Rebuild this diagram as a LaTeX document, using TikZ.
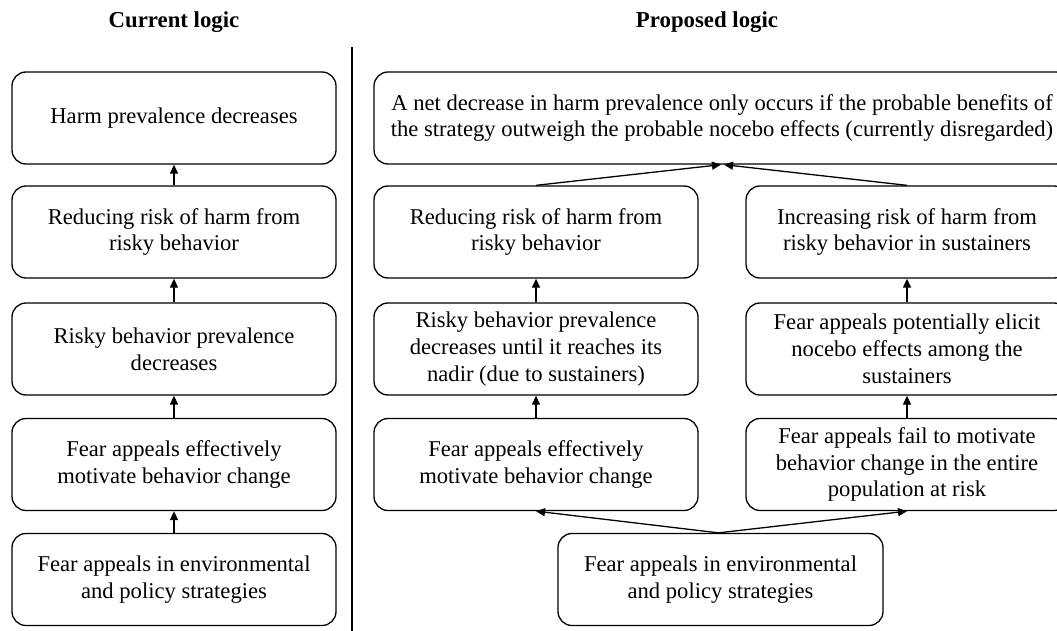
\documentclass[tikz,border=0pt]{standalone}
\usepackage{fontspec}
\setmainfont{Liberation Serif}
\usetikzlibrary{arrows.meta}
\tikzset{
  box/.style={draw=black, line width=1.3pt, rounded corners=14pt, align=center,
    minimum height=92pt, inner sep=2pt, font=\fontsize{22.6}{26.8}\selectfont},
  narrow/.style={box, minimum width=324pt},
  wide/.style={box, minimum width=696pt},
  title/.style={font=\fontsize{22.8}{26.8}\selectfont\bfseries},
  arr/.style={line width=1.3pt, -{Triangle[length=9pt,width=8pt]}},
  divider/.style={line width=2.6pt}
}
\begin{document}
\begin{tikzpicture}[x=1pt,y=-1pt]
\useasboundingbox (0,0) rectangle (1057,631);
% titles
\node[title] (t1) at (174,22) {Current logic};
\node[title] (t2) at (707,22) {Proposed logic};
\coordinate (d1) at (352,47);
\coordinate (d2) at (352,631);
\draw[divider] (d1) -- (d2);
% current logic
\node[narrow] (l1) at (174,118) {Harm prevalence decreases};
\node[narrow] (l2) at (174,232) {Reducing risk of harm from\\risky behavior};
\node[narrow] (l3) at (174,349) {Risky behavior prevalence\\decreases};
\node[narrow] (l4) at (174,464.5) {Fear appeals effectively\\motivate behavior change};
\node[narrow] (l5) at (174,579.5) {Fear appeals in environmental\\and policy strategies};
\draw[arr] (l5) -- (l4);
\draw[arr] (l4) -- (l3);
\draw[arr] (l3) -- (l2);
\draw[arr] (l2) -- (l1);
% proposed logic
\node[wide] (p0) at (722,118) {A net decrease in harm prevalence only occurs if the probable benefits of\\the strategy outweigh the probable nocebo effects (currently disregarded)};
\node[narrow] (a1) at (536,232) {Reducing risk of harm from\\risky behavior};
\node[narrow] (a2) at (536,349) {Risky behavior prevalence\\decreases until it reaches its\\nadir (due to sustainers)};
\node[narrow] (a3) at (536,464.5) {Fear appeals effectively\\motivate behavior change};
\node[narrow, minimum width=322pt] (b1) at (907,232) {Increasing risk of harm from\\risky behavior in sustainers};
\node[narrow, minimum width=322pt] (b2) at (907,349) {Fear appeals potentially elicit\\nocebo effects among the\\sustainers};
\node[narrow, minimum width=322pt] (b3) at (907,464.5) {Fear appeals fail to motivate\\behavior change in the entire\\population at risk};
\node[narrow, minimum width=325pt] (p5) at (720.5,579.5) {Fear appeals in environmental\\and policy strategies};
\draw[arr] (a3) -- (a2);
\draw[arr] (a2) -- (a1);
\draw[arr] (b3) -- (b2);
\draw[arr] (b2) -- (b1);
\draw[arr] (a1.north) -- ([xshift=-1pt]p0.south);
\draw[arr] (b1.north) -- ([xshift=2pt]p0.south);
\draw[arr] ([xshift=-2pt]p5.north) -- (a3.south);
\draw[arr] ([xshift=-2pt]p5.north) -- (b3.south);
\end{tikzpicture}
\end{document}
